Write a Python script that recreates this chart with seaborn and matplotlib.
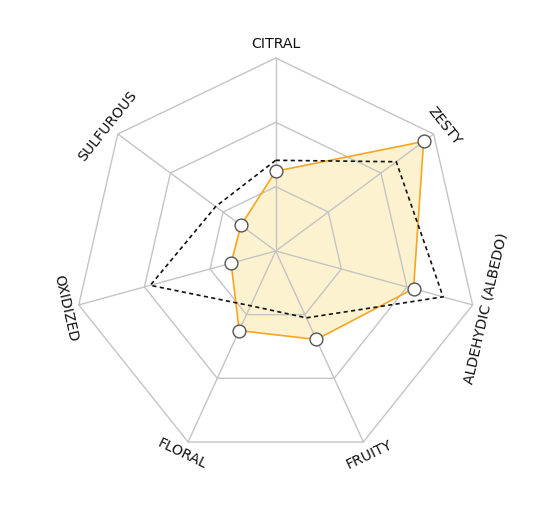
import numpy as np
import pandas as pd
import seaborn as sns
import matplotlib.pyplot as plt

# --- data ---
categories = ["CITRAL", "ZESTY", "ALDEHYDIC (ALBEDO)", "FRUITY", "FLORAL", "OXIDIZED", "SULFUROUS"]
sample_values = [1.24, 2.81, 2.10, 1.39, 1.25, 0.68, 0.66]
reference_values = [1.41, 2.29, 2.55, 1.05, 0.86, 1.91, 1.14]
ring_levels = [1, 2, 3]

sns.set_style("white")
plt.rcParams['font.family'] = ['DejaVu Sans']

n = len(categories)
angles = np.pi / 2 - np.arange(n) * 2 * np.pi / n
max_level = max(ring_levels)

# the outer heptagon is centred a little below the point where the spokes meet
px = 67.33                      # pixels per level
center_drop = 9 / px
vx = max_level * np.cos(angles)
vy = max_level * np.sin(angles) - center_drop


def to_xy(values):
    f = np.asarray(values, dtype=float) / max_level
    x, y = f * vx, f * vy
    return np.append(x, x[0]), np.append(y, y[0])


fig = plt.figure(figsize=(5.5, 5.28), dpi=100)
ax = fig.add_axes([0, 0, 1, 1])
ax.set_xlim(-275.7 / px, (550 - 275.7) / px)
ax.set_ylim(-(528 - 251) / px, 251 / px)
ax.axis("off")

grid_color = "#c4c4c4"
# --- grid rings and spokes ---
for lvl in ring_levels:
    gx, gy = to_xy([lvl] * n)
    ax.plot(gx, gy, color=grid_color, lw=1, zorder=1)
for x1, y1 in zip(vx, vy):
    ax.plot([0, x1], [0, y1], color=grid_color, lw=1, zorder=1)

# --- sample series (filled, grid shows through) ---
sx, sy = to_xy(sample_values)
ax.fill(sx, sy, color="#fdf2cf", zorder=0.5, lw=0)
df_s = pd.DataFrame({"x": sx, "y": sy})
sns.lineplot(data=df_s, x="x", y="y", sort=False, estimator=None, ax=ax,
             color="#f6a623", lw=1.2, zorder=3)

# --- reference series (dashed) ---
rx, ry = to_xy(reference_values)
df_r = pd.DataFrame({"x": rx, "y": ry})
sns.lineplot(data=df_r, x="x", y="y", sort=False, estimator=None, ax=ax,
             color="#111111", lw=1.2, linestyle=(0, (2.5, 2)), zorder=4)

# markers on sample points
sns.scatterplot(data=df_s.iloc[:-1], x="x", y="y", ax=ax, s=85, color="white",
                edgecolor="#555555", linewidth=1, zorder=5)

# --- axis labels, rotated along the tangent ---
label_r = 215.5 / px
for name, a in zip(categories, angles):
    rot = np.degrees(a) - 90
    rot = (rot + 180) % 360 - 180
    if rot > 90:
        rot -= 180
    elif rot < -90:
        rot += 180
    ax.text(label_r * np.cos(a), label_r * np.sin(a) - center_drop, name,
            rotation=rot, rotation_mode="anchor",
            ha="center", va="center", fontsize=10.2, color="#111111")

ax.set_xlabel("")
ax.set_ylabel("")
fig.savefig("out.png", dpi=100)
